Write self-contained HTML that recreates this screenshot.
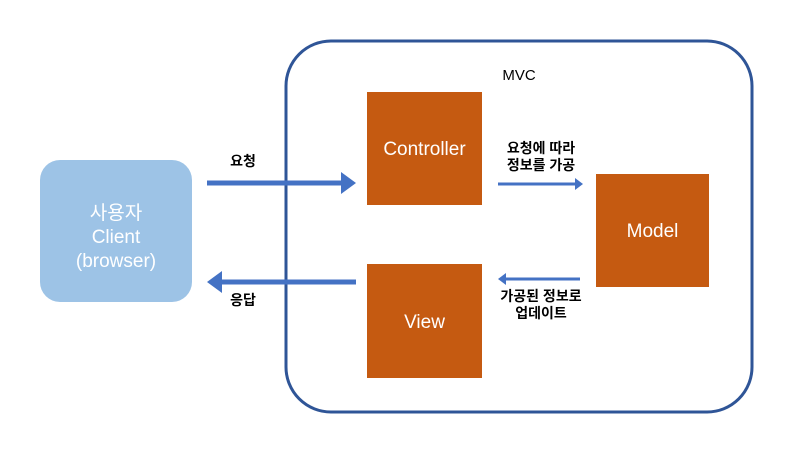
<!DOCTYPE html>
<html><head><meta charset="utf-8"><style>
body{margin:0;background:#fff;}
text{font-family:"Liberation Sans","Noto Sans CJK KR",sans-serif;}
</style></head><body>
<svg width="800" height="450" viewBox="0 0 800 450" xmlns="http://www.w3.org/2000/svg">
<rect x="286" y="41" width="466" height="371" rx="45" fill="none" stroke="#2F5597" stroke-width="3"/>
<text x="519" y="80" font-size="15" text-anchor="middle" fill="#000">MVC</text>
<rect x="40" y="160" width="152" height="142" rx="20" fill="#9DC3E6"/>
<text x="116" y="219" font-size="19" text-anchor="middle" fill="#fff">사용자</text>
<text x="116" y="243" font-size="19" text-anchor="middle" fill="#fff">Client</text>
<text x="116" y="267" font-size="19" text-anchor="middle" fill="#fff">(browser)</text>
<rect x="367" y="92" width="115" height="113" fill="#C55A11"/>
<text x="424.5" y="155" font-size="19" text-anchor="middle" fill="#fff">Controller</text>
<rect x="367" y="264" width="115" height="114" fill="#C55A11"/>
<text x="424.5" y="328" font-size="19" text-anchor="middle" fill="#fff">View</text>
<rect x="596" y="174" width="113" height="113" fill="#C55A11"/>
<text x="652.5" y="237" font-size="19" text-anchor="middle" fill="#fff">Model</text>
<line x1="207" y1="183" x2="343" y2="183" stroke="#4472C4" stroke-width="5"/>
<polygon points="341,172 356,183 341,194" fill="#4472C4"/>
<line x1="356" y1="282" x2="220" y2="282" stroke="#4472C4" stroke-width="5"/>
<polygon points="222,271 207,282 222,293" fill="#4472C4"/>
<text x="243" y="166" font-size="14" font-weight="bold" text-anchor="middle">요청</text>
<text x="243" y="305" font-size="14" font-weight="bold" text-anchor="middle">응답</text>
<line x1="498" y1="184" x2="576" y2="184" stroke="#4472C4" stroke-width="3"/>
<polygon points="575,178 583,184 575,190" fill="#4472C4"/>
<line x1="580" y1="279" x2="505" y2="279" stroke="#4472C4" stroke-width="3"/>
<polygon points="506,273 498,279 506,285" fill="#4472C4"/>
<text x="541" y="153" font-size="14" font-weight="bold" text-anchor="middle">요청에 따라</text>
<text x="541" y="170" font-size="14" font-weight="bold" text-anchor="middle">정보를 가공</text>
<text x="541" y="301" font-size="14" font-weight="bold" text-anchor="middle">가공된 정보로</text>
<text x="541" y="318" font-size="14" font-weight="bold" text-anchor="middle">업데이트</text>
</svg>
</body></html>
